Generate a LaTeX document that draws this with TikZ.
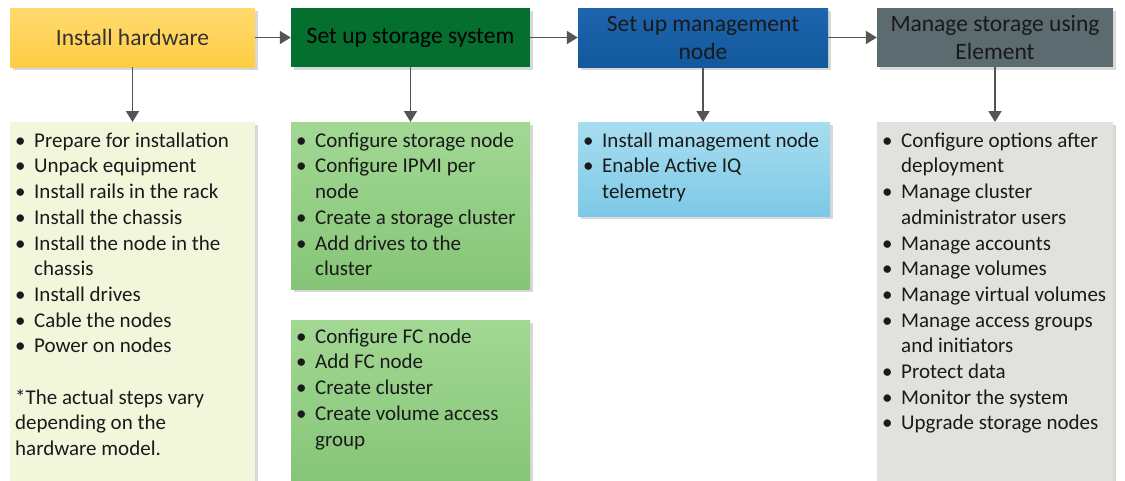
\documentclass[tikz,border=0pt]{standalone}
\usepackage{fontspec}
\setmainfont{Carlito}
\usetikzlibrary{arrows.meta,shadows}
\definecolor{hdrAtop}{HTML}{FFDB6E}
\definecolor{hdrAbot}{HTML}{FFCC45}
\definecolor{hdrB}{HTML}{046F2E}
\definecolor{hdrCtop}{HTML}{1E65AE}
\definecolor{hdrCbot}{HTML}{12589C}
\definecolor{hdrD}{HTML}{5C6B70}
\definecolor{boxA}{HTML}{F2F7DC}
\definecolor{boxBtop}{HTML}{A2D894}
\definecolor{boxBbot}{HTML}{86C577}
\definecolor{boxCtop}{HTML}{A8DDF0}
\definecolor{boxCbot}{HTML}{7DC9E6}
\definecolor{boxD}{HTML}{E1E1DD}
\definecolor{arrowgray}{HTML}{555555}
\definecolor{txt}{HTML}{1A1A1A}
\newcommand{\itm}[1]{\makebox[19pt][l]{\textbullet}#1}
\newcommand{\cnt}[1]{\hspace*{19pt}#1}
\begin{document}
\begin{tikzpicture}[x=1pt,y=-1pt,
  shad/.style={drop shadow={shadow xshift=2.5pt,shadow yshift=-2.5pt,fill=black!30,opacity=0.5}},
  hdr/.style={shad,minimum height=59pt,inner sep=0pt,align=center,
    font=\fontsize{23.5}{28}\selectfont},
  panel/.style={shad,anchor=north west,inner sep=0pt},
  list/.style={anchor=north west,inner sep=0pt,align=left,text=txt,
    font=\fontsize{21}{25.7}\selectfont},
  flow/.style={draw=arrowgray,line width=1.8pt,-{Triangle[length=11pt,width=13pt]}}]
\useasboundingbox (0,0) rectangle (1125,480);
% headers
\node[hdr,minimum width=245pt,top color=hdrAtop,bottom color=hdrAbot,text=black!80] (h1) at (132.5,37.5) {Install hardware};
\node[hdr,minimum width=239pt,fill=hdrB,text=black] (h2) at (410.5,37.5) {Set up storage system};
\node[hdr,minimum width=250pt,top color=hdrCtop,bottom color=hdrCbot,text=black!90] (h3) at (703,37.5) {Set up management\\node};
\node[hdr,minimum width=236pt,fill=hdrD,text=black!90] (h4) at (995,37.5) {Manage storage using\\Element};
% panels
\node[panel,fill=boxA,minimum width=245pt,minimum height=360pt] (b1) at (10,122) {};
\node[panel,top color=boxBtop,bottom color=boxBbot,minimum width=239pt,minimum height=167pt] (b2) at (291,122) {};
\node[panel,top color=boxBtop,bottom color=boxBbot,minimum width=239pt,minimum height=162pt] (b2b) at (291,320) {};
\node[panel,top color=boxCtop,bottom color=boxCbot,minimum width=252pt,minimum height=94pt] (b3) at (578,122) {};
\node[panel,fill=boxD,minimum width=236pt,minimum height=360pt] (b4) at (877,122) {};
% texts
\node[list] (t1) at (15,132.5) {\itm{Prepare for installation}\\\itm{Unpack equipment}\\\itm{Install rails in the rack}\\\itm{Install the chassis}\\\itm{Install the node in the}\\\cnt{chassis}\\\itm{Install drives}\\\itm{Cable the nodes}\\\itm{Power on nodes}\\[25.7pt]*The actual steps vary\\depending on the\\hardware model.};
\node[list] (t2) at (296,132.5) {\itm{Configure storage node}\\\itm{Configure IPMI per}\\\cnt{node}\\\itm{Create a storage cluster}\\\itm{Add drives to the}\\\cnt{cluster}};
\node[list] (t2b) at (296,328.5) {\itm{Configure FC node}\\\itm{Add FC node}\\\itm{Create cluster}\\\itm{Create volume access}\\\cnt{group}};
\node[list] (t3) at (583,132.5) {\itm{Install management node}\\\itm{Enable Active IQ}\\\cnt{telemetry}};
\node[list] (t4) at (882,132.5) {\itm{Configure options after}\\\cnt{deployment}\\\itm{Manage cluster}\\\cnt{administrator users}\\\itm{Manage accounts}\\\itm{Manage volumes}\\\itm{Manage virtual volumes}\\\itm{Manage access groups}\\\cnt{and initiators}\\\itm{Protect data}\\\itm{Monitor the system}\\\itm{Upgrade storage nodes}};
% connectors
\draw[flow] (h1) -- (h2);
\draw[flow] (h2) -- (h3);
\draw[flow] (h3) -- (h4);
\draw[flow] (h1.south) -- (h1.south |- b1.north);
\draw[flow] (h2.south) -- (h2.south |- b2.north);
\draw[flow] (h3.south) -- (h3.south |- b3.north);
\draw[flow] (h4.south) -- (h4.south |- b4.north);
\end{tikzpicture}
\end{document}
